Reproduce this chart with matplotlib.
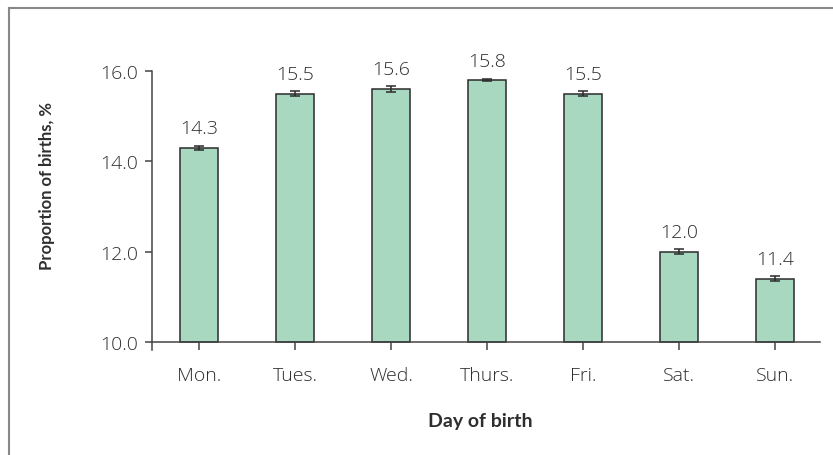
import matplotlib
matplotlib.use('Agg')
import matplotlib.pyplot as plt
from matplotlib.lines import Line2D

days = ['Mon.', 'Tues.', 'Wed.', 'Thurs.', 'Fri.', 'Sat.', 'Sun.']
proportion = [14.3, 15.5, 15.6, 15.8, 15.5, 12.0, 11.4]
err = [0.05, 0.05, 0.07, 0.03, 0.05, 0.06, 0.06]
yticks = [10.0, 12.0, 14.0, 16.0]

plt.rcParams['font.family'] = ['Open Sans', 'DejaVu Sans']
txt = '#2e2e2e'

fig = plt.figure(figsize=(8.33, 4.56), dpi=100)
ax = fig.add_axes([152/833, 1 - 351/456, (820-152)/833, 321/456])

x = list(range(len(days)))
ax.bar(x, [v - 10 for v in proportion], bottom=10, width=0.4,
       color='#a8d8c0', edgecolor='#2b2b2b', linewidth=1.1,
       yerr=err, capsize=3.5, error_kw={'ecolor': '#2b2b2b', 'elinewidth': 1.1, 'capthick': 1.1})

for i, v in enumerate(proportion):
    ax.annotate('%.1f' % v, (i, v + err[i]), xytext=(0, 6), textcoords='offset points',
                ha='center', va='bottom', fontsize=14, fontweight='light', color=txt)

ax.set_xlim(-0.49, 6.47)
ax.set_ylim(9.823, 16.93)
ax.spines['top'].set_visible(False)
ax.spines['right'].set_visible(False)
ax.spines['bottom'].set_position(('data', 10))
ax.spines['left'].set_bounds(9.823, 16.0)
for s in ['left', 'bottom']:
    ax.spines[s].set_color('#444444')
    ax.spines[s].set_linewidth(1.1)

ax.set_yticks(yticks)
ax.set_yticklabels(['%.1f' % t for t in yticks], fontsize=14, fontweight='light', color=txt)
ax.set_xticks(x)
ax.set_xticklabels(days, fontsize=14, fontweight='light', color=txt)
ax.tick_params(axis='y', length=5, width=1.1, color='#444444', pad=5)
ax.tick_params(axis='x', length=6, width=1.1, color='#444444', pad=11)

fig.text(47/833, 1 - 186/456, 'Proportion of births, %', rotation=90, ha='center', va='center',
         fontsize=12, fontweight='bold', color=txt, family=['Lato', 'DejaVu Sans'])
fig.text(480/833, 1 - 422/456, 'Day of birth', ha='center', va='center',
         fontsize=14, fontweight='bold', color=txt, family=['Lato', 'DejaVu Sans'])

# frame on the left and top
fig.add_artist(Line2D([9/833, 9/833], [0, 1 - 9/456], transform=fig.transFigure, color='#888888', lw=1.5))
fig.add_artist(Line2D([9/833, 1], [1 - 9/456, 1 - 9/456], transform=fig.transFigure, color='#888888', lw=1.5))

fig.savefig('out.png', dpi=100)
